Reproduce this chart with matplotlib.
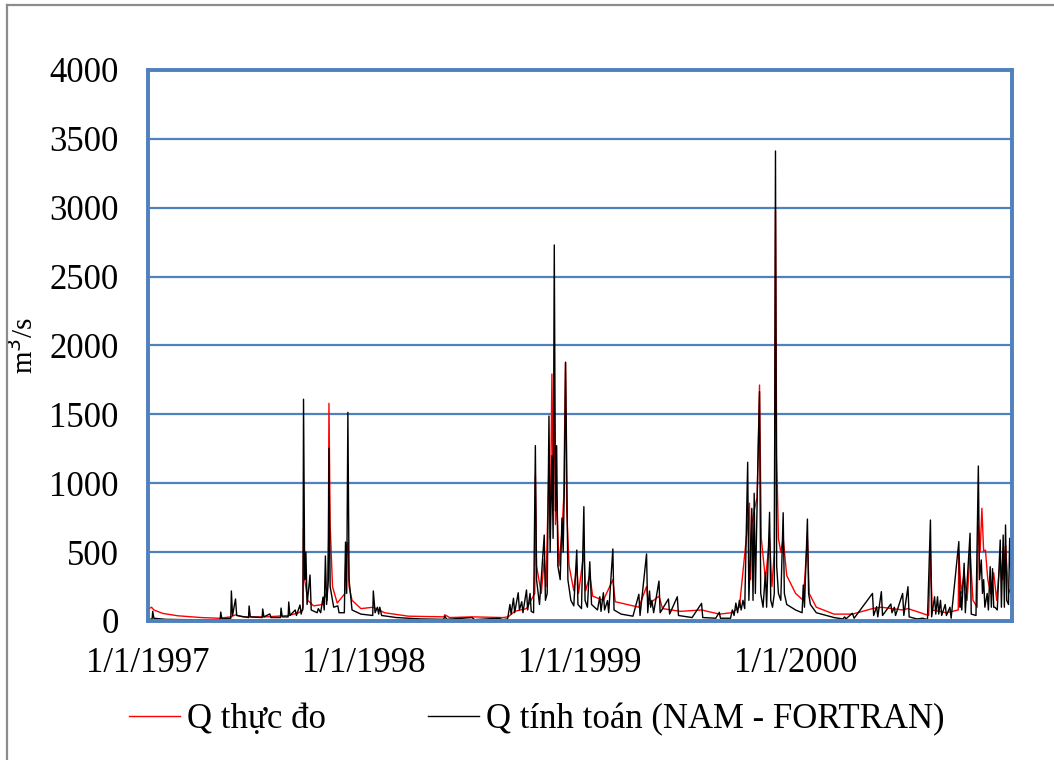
import matplotlib
matplotlib.use("Agg")
import matplotlib.pyplot as plt
from matplotlib.lines import Line2D

# discharge series, day counted from 1/1/1997
obs_day = [0, 6, 10, 25, 50, 90, 120, 140, 148, 160, 200, 238, 255, 262, 263, 265, 270, 280,
           296, 300, 303, 305, 306, 308, 312, 320, 333, 334, 336, 338, 340, 345, 360, 381, 400,
           440, 500, 502, 510, 548, 600, 609, 620, 640, 654, 655, 657, 665, 670, 673, 678, 680,
           683, 685, 687, 689, 691, 695, 700, 703, 706, 708, 712, 720, 725, 728, 737, 740, 747,
           752, 770, 786, 790, 830, 843, 846, 864, 870, 900, 936, 966, 987, 1000, 1014, 1017,
           1019, 1021, 1025, 1030, 1034, 1037, 1044, 1051, 1055, 1059, 1061, 1063, 1066, 1070,
           1074, 1080, 1095, 1108, 1115, 1118, 1130, 1160, 1191, 1225, 1240, 1276, 1285, 1320,
           1323, 1326, 1350, 1370, 1371, 1375, 1380, 1385, 1390, 1395, 1402, 1404, 1407, 1410,
           1413, 1416, 1420, 1425, 1430, 1435, 1441, 1445, 1450, 1455, 1460]
obs_q = [85, 100, 80, 55, 38, 25, 20, 30, 45, 30, 30, 40, 60, 80, 675, 300, 150, 110,
         120, 200, 150, 600, 1580, 700, 250, 130, 200, 400, 500, 570, 250, 150, 90, 100, 60,
         35, 30, 45, 25, 30, 25, 30, 70, 90, 200, 1053, 400, 200, 450, 250, 1150, 600,
         1793, 900, 1750, 700, 900, 400, 650, 900, 1878, 800, 400, 220, 400, 200, 500, 220, 330,
         180, 150, 300, 140, 100, 250, 120, 180, 90, 70, 80, 50, 60, 100, 700, 855,
         300, 700, 800, 900, 1713, 600, 300, 600, 250, 500, 2977, 1200, 600, 500,
         600, 330, 200, 150, 600, 200, 100, 50, 50, 90, 100, 80, 90, 40,
         500, 80, 60, 80, 500, 200, 350, 150, 500, 150, 100, 700, 500, 818,
         503, 515, 300, 200, 350, 150, 450, 300, 550, 200, 250]

sim_day = [0, 7, 8, 10, 30, 90, 122, 123, 125, 140, 141, 143, 148, 150, 170, 171, 173, 193,
           194, 196, 206, 208, 224, 225, 227, 237, 238, 240, 249, 251, 257, 259, 262, 263, 265,
           267, 269, 274, 276, 286, 288, 292, 296, 298, 300, 302, 305, 306, 308, 314, 321, 323,
           332, 334, 336, 338, 340, 343, 345, 360, 380, 381, 384, 388, 390, 392, 395, 420, 460,
           500, 502, 505, 548, 552, 593, 600, 608, 612, 614, 618, 620, 626, 628, 632, 634, 640,
           642, 646, 648, 652, 655, 657, 662, 670, 672, 675, 678, 680, 683, 685, 687, 689, 691,
           693, 697, 700, 702, 704, 706, 708, 710, 715, 720, 725, 727, 733, 737, 739, 743, 747,
           750, 760, 764, 766, 770, 772, 777, 779, 786, 788, 800, 820, 830, 832, 843, 845, 848,
           850, 852, 855, 864, 866, 880, 882, 895, 897, 920, 936, 938, 960, 966, 968, 985, 988,
           991, 994, 997, 1000, 1003, 1006, 1009, 1014, 1016, 1021, 1023, 1025, 1027, 1031, 1034,
           1036, 1040, 1044, 1046, 1051, 1053, 1056, 1059, 1061, 1063, 1066, 1070, 1074, 1076,
           1080, 1095, 1106, 1108, 1110, 1115, 1117, 1120, 1130, 1160, 1175, 1178, 1180, 1191,
           1194, 1225, 1227, 1232, 1234, 1240, 1242, 1256, 1258, 1262, 1264, 1276, 1278, 1285,
           1287, 1300, 1310, 1318, 1323, 1325, 1330, 1332, 1335, 1337, 1340, 1342, 1348, 1350,
           1356, 1358, 1371, 1373, 1374, 1376, 1380, 1382, 1390, 1392, 1400, 1404, 1406, 1409,
           1411, 1413, 1415, 1419, 1421, 1424, 1426, 1428, 1430, 1432, 1436, 1441, 1443, 1446,
           1448, 1450, 1452, 1455, 1457, 1460]
sim_q = [10, 15, 70, 20, 12, 8, 10, 65, 15, 20, 218, 40, 160, 40, 25, 109, 30, 25,
         87, 30, 51, 25, 25, 94, 30, 30, 138, 40, 80, 40, 116, 50, 100, 1610, 300,
         500, 120, 334, 80, 60, 90, 60, 174, 80, 472, 120, 300, 1254, 250, 100, 110, 60,
         60, 573, 200, 1515, 300, 167, 80, 50, 40, 218, 60, 100, 50, 100, 40, 25, 15,
         12, 35, 12, 25, 10, 20, 10, 15, 120, 50, 165, 60, 205, 80, 140, 60, 225,
         80, 200, 70, 60, 1273, 300, 120, 624, 150, 200, 1488, 500, 1200, 600, 2730, 800, 1273,
         400, 300, 748, 500, 980, 1878, 1140, 300, 150, 110, 515, 120, 90, 830, 150, 100, 430,
         120, 80, 176, 70, 205, 80, 148, 60, 523, 80, 50, 35, 194, 40, 487, 60, 218,
         100, 150, 60, 290, 60, 160, 50, 176, 40, 25, 128, 25, 20, 63, 20, 20, 80,
         40, 130, 60, 150, 80, 150, 90, 1152, 150, 818, 150, 927, 200, 1084, 1665,
         200, 100, 353, 100, 789, 150, 100, 200, 3412, 400, 200, 150, 786, 200,
         120, 80, 60, 261, 100, 740, 200, 120, 60, 25, 15, 30, 15, 56,
         20, 200, 40, 104, 30, 213, 40, 123, 60, 100, 40, 200, 40, 249,
         30, 15, 20, 10, 733, 30, 176, 50, 176, 50, 150, 40, 120, 40,
         100, 20, 576, 100, 213, 80, 419, 60, 637, 50, 40, 1125, 300, 443,
         200, 300, 100, 200, 80, 394, 100, 380, 100, 100, 80, 588, 100, 624,
         100, 697, 150, 120, 600, 200]

tick_day = [0, 365, 730, 1095]
tick_lab = ["1/1/1997", "1/1/1998", "1/1/1999", "1/1/2000"]

blue = "#4F81BD"
plt.rcParams["font.family"] = ["Liberation Serif", "DejaVu Serif"]

fig = plt.figure(figsize=(10.54, 7.6), dpi=100)
ax = fig.add_axes([0.1404, 0.1829, 0.8198, 0.7250])

l1, = ax.plot(obs_day, obs_q, color="red", lw=1.0, label="Q thực đo")
l2, = ax.plot(sim_day, sim_q, color="black", lw=1.0, label="Q tính toán (NAM - FORTRAN)")

ax.set_xlim(0, 1461)
ax.set_ylim(0, 4000)
ax.set_yticks(range(0, 4001, 500))
ax.set_xticks(tick_day)
ax.set_xticklabels(tick_lab)
ax.tick_params(length=0, labelsize=25)
ax.tick_params(axis="y", pad=21)
ax.tick_params(axis="x", pad=19)
ax.grid(axis="y", color=blue, lw=1.6)
ax.set_axisbelow(True)
for s in ax.spines.values():
    s.set_color(blue)
    s.set_linewidth(2.8)

ax.set_ylabel("m$^3$/s", fontsize=21)
ax.yaxis.set_label_coords(-0.126, 0.5)

fig.legend(handles=[l1, l2], loc="center", bbox_to_anchor=(0.509, 0.053), ncol=2,
           frameon=False, fontsize=25, handlelength=1.47, handletextpad=0.2,
           columnspacing=2.95)

# grey edge on the top and left of the chart area
fig.add_artist(Line2D([0.0063, 0.0063], [0, 0.9928], transform=fig.transFigure,
                      color="#8c8c8c", lw=1.6))
fig.add_artist(Line2D([0.0063, 1], [0.9928, 0.9928], transform=fig.transFigure,
                      color="#8c8c8c", lw=1.6))

fig.savefig("out.png", dpi=100)
